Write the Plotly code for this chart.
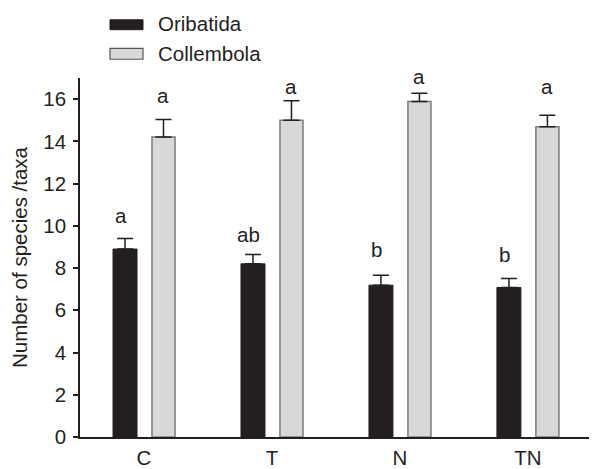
import plotly.graph_objects as go

categories = ["C", "T", "N", "TN"]
oribatida = [8.90, 8.20, 7.19, 7.08]
oribatida_se = [0.50, 0.44, 0.47, 0.42]
collembola = [14.21, 15.00, 15.89, 14.69]
collembola_se = [0.82, 0.92, 0.39, 0.55]
oribatida_letters = ["a", "ab", "b", "b"]
collembola_letters = ["a", "a", "a", "a"]
oribatida_letter_y = [10.48, 9.60, 8.90, 8.65]
collembola_letter_y = [16.19, 16.62, 17.09, 16.62]
y_ticks = [0, 2, 4, 6, 8, 10, 12, 14, 16]

INK = "#231f20"
GRAY = "#d7d8da"
FONT = "Liberation Sans, Arial, sans-serif"
FS = 20.5

# page body has an 8px default margin; figure sized so it ends at the window edge
OFF = 8
W, H = 597 - OFF, 469 - OFF
ml, mr, mt, mb = 80 - OFF, 0, 78 - OFF, 469 - 442
pw, ph = W - ml - mr, H - mt - mb
YMAX = 17.0

fig = go.Figure()
fig.add_trace(go.Bar(
    x=categories, y=oribatida, name="Oribatida",
    offset=-0.242, width=0.1875,
    marker=dict(color=INK, line=dict(color=INK, width=1)),
    error_y=dict(type="data", symmetric=False, array=oribatida_se,
                 arrayminus=[0] * len(oribatida_se), color=INK, thickness=1.5, width=8),
    showlegend=False,
))
fig.add_trace(go.Bar(
    x=categories, y=collembola, name="Collembola",
    offset=0.0625, width=0.18,
    marker=dict(color=GRAY, line=dict(color="#7a7a7a", width=1.5)),
    error_y=dict(type="data", symmetric=False, array=collembola_se,
                 arrayminus=[0] * len(collembola_se), color=INK, thickness=1.5, width=8),
    showlegend=False,
))

annotations = []
def letter(xpos, yv, t):
    ya = min(yv, YMAX - 0.2)
    annotations.append(dict(x=xpos, y=ya, yshift=(yv - ya) * ph / YMAX, xref="x", yref="y",
                            text=t, showarrow=False,
                            font=dict(size=FS, color=INK, family=FONT),
                            xanchor="center", yanchor="middle"))

for i, (t, yv) in enumerate(zip(oribatida_letters, oribatida_letter_y)):
    letter(i - 0.18, yv, t)
for i, (t, yv) in enumerate(zip(collembola_letters, collembola_letter_y)):
    letter(i + 0.15, yv, t)

def px(xp):
    return (xp - OFF - ml) / pw
def py(yp):
    return 1 - (yp - OFF - mt) / ph

shapes = [
    dict(type="rect", xref="paper", yref="paper", x0=px(110), x1=px(143), y0=py(29), y1=py(19),
         fillcolor=INK, line=dict(color=INK, width=1)),
    dict(type="rect", xref="paper", yref="paper", x0=px(110), x1=px(143), y0=py(59), y1=py(48),
         fillcolor=GRAY, line=dict(color="#555555", width=1.2)),
]
annotations.append(dict(x=px(156), y=py(23), xref="paper", yref="paper", text="Oribatida",
                        showarrow=False, xanchor="left", yanchor="middle",
                        font=dict(size=FS, color=INK, family=FONT)))
annotations.append(dict(x=px(156), y=py(53), xref="paper", yref="paper", text="Collembola",
                        showarrow=False, xanchor="left", yanchor="middle",
                        font=dict(size=FS, color=INK, family=FONT)))

fig.update_layout(
    width=W, height=H,
    margin=dict(l=ml, r=mr, t=mt, b=mb),
    paper_bgcolor="white", plot_bgcolor="white",
    barmode="overlay",
    font=dict(family=FONT, size=FS, color=INK),
    shapes=shapes, annotations=annotations,
    xaxis=dict(type="category", range=[-0.5, 3.54], showline=True, linecolor=INK, linewidth=1.5,
               ticks="", showgrid=False, zeroline=False, tickfont=dict(size=FS, color=INK),
               ticklabelstandoff=2),
    yaxis=dict(range=[0, YMAX], tickvals=y_ticks, showline=True, linecolor=INK, linewidth=1.5,
               ticks="outside", ticklen=5, tickwidth=1.5, tickcolor=INK, showgrid=False, zeroline=False,
               tickfont=dict(size=FS, color=INK), ticklabelstandoff=3,
               title=dict(text="Number of species /taxa", font=dict(size=FS, color=INK), standoff=10)),
)
fig.write_html("out.html")
